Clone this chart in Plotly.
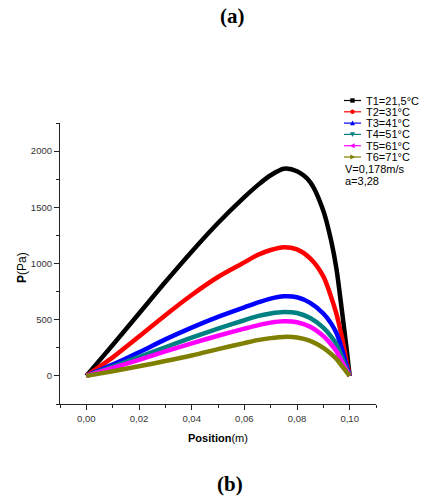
import plotly.graph_objects as go

position = [0, 0.01, 0.02, 0.03, 0.04, 0.05, 0.06, 0.065, 0.07, 0.075, 0.08,
            0.085, 0.09, 0.093, 0.095, 0.097, 0.099, 0.1]
p_t1 = [0, 275, 555, 835, 1105, 1360, 1590, 1695, 1785, 1843, 1820, 1725, 1470, 1200, 950, 590, 210, 0]
p_t2 = [0, 165, 350, 540, 720, 880, 1010, 1075, 1120, 1145, 1125, 1045, 885, 700, 550, 350, 110, 0]
p_t3 = [0, 100, 210, 325, 430, 525, 610, 652, 688, 708, 700, 650, 555, 465, 380, 245, 80, 0]
p_t4 = [0, 82, 168, 255, 340, 420, 495, 532, 556, 569, 560, 515, 430, 350, 280, 170, 55, 0]
p_t5 = [0, 70, 143, 218, 290, 357, 420, 450, 474, 486, 478, 438, 355, 280, 220, 130, 42, 0]
p_t6 = [0, 42, 86, 132, 182, 238, 292, 318, 336, 347, 342, 312, 250, 195, 150, 90, 30, 0]

labels = ["T1=21,5°C", "T2=31°C", "T3=41°C", "T4=51°C", "T5=61°C", "T6=71°C"]
series = [p_t1, p_t2, p_t3, p_t4, p_t5, p_t6]
colors = ["#000000", "#ff0000", "#0000ff", "#008080", "#ff00ff", "#808000"]
symbols = ["square", "circle", "up", "down", "left", "right"]
extra_text = ["V=0,178m/s", "a=3,28"]

x_ticks = [0.0, 0.02, 0.04, 0.06, 0.08, 0.10]
x_ticktext = ["0,00", "0,02", "0,04", "0,06", "0,08", "0,10"]
y_ticks = [0, 500, 1000, 1500, 2000]

W, H = 427, 500
L, R, T, B = 60, 376, 123, 404


def px(xp):
    return (xp - L) / (R - L)


def py(yp):
    return (B - yp) / (B - T)


fig = go.Figure()
for lab, ys, c in zip(labels, series, colors):
    fig.add_trace(go.Scatter(x=position, y=ys, mode="lines", name=lab,
                             line=dict(color=c, width=4.5, shape="spline", smoothing=0.8),
                             showlegend=False))

SANS = "Liberation Sans, Arial"
leg_x0, leg_x1 = 344, 361
leg_y0, dy = 100.5, 11.3
for i, (lab, c, s) in enumerate(zip(labels, colors, symbols)):
    yy = leg_y0 + i * dy
    fig.add_shape(type="line", xref="paper", yref="paper",
                  x0=px(leg_x0), x1=px(leg_x1), y0=py(yy), y1=py(yy),
                  line=dict(color=c, width=1.2))
    cx, r = (leg_x0 + leg_x1) / 2, 2.2
    if s == "square":
        pts = [(cx - r, yy - r), (cx + r, yy - r), (cx + r, yy + r), (cx - r, yy + r)]
    elif s == "circle":
        pts = None
    elif s == "up":
        pts = [(cx, yy - r - 0.5), (cx + r + 0.3, yy + r), (cx - r - 0.3, yy + r)]
    elif s == "down":
        pts = [(cx, yy + r + 0.5), (cx + r + 0.3, yy - r), (cx - r - 0.3, yy - r)]
    elif s == "left":
        pts = [(cx - r - 0.5, yy), (cx + r, yy - r - 0.3), (cx + r, yy + r + 0.3)]
    else:
        pts = [(cx + r + 0.5, yy), (cx - r, yy - r - 0.3), (cx - r, yy + r + 0.3)]
    if pts is None:
        fig.add_shape(type="circle", xref="paper", yref="paper",
                      x0=px(cx - r), x1=px(cx + r), y0=py(yy + r), y1=py(yy - r),
                      fillcolor=c, line=dict(color=c, width=0))
    else:
        path = "M " + " L ".join(f"{px(a):.5f},{py(b):.5f}" for a, b in pts) + " Z"
        fig.add_shape(type="path", xref="paper", yref="paper", path=path,
                      fillcolor=c, line=dict(color=c, width=0))
    fig.add_annotation(x=px(364), y=py(yy), xref="paper", yref="paper", text=lab,
                       showarrow=False, xanchor="left", yanchor="middle",
                       font=dict(family=SANS, size=11, color="#000"))
for j, t in enumerate(extra_text):
    fig.add_annotation(x=px(343), y=py(leg_y0 + 6 * dy + 0.6 + j * 12.4),
                       xref="paper", yref="paper", text=t,
                       showarrow=False, xanchor="left", yanchor="middle",
                       font=dict(family=SANS, size=11, color="#000"))

fig.add_annotation(x=px(232), y=py(16), xref="paper", yref="paper", text="<b>(a)</b>",
                   showarrow=False, xanchor="center", yanchor="middle",
                   font=dict(family="Liberation Serif, Times New Roman", size=21, color="#000"))
fig.add_annotation(x=px(230), y=py(484), xref="paper", yref="paper", text="<b>(b)</b>",
                   showarrow=False, xanchor="center", yanchor="middle",
                   font=dict(family="Liberation Serif, Times New Roman", size=21, color="#000"))
fig.add_annotation(x=px(218), y=py(438), xref="paper", yref="paper",
                   text="<b>Position</b>(m)", showarrow=False, xanchor="center", yanchor="middle",
                   font=dict(family=SANS, size=11, color="#000"))
fig.add_annotation(x=px(22), y=py(268), xref="paper", yref="paper", text="<b>P</b>(Pa)",
                   showarrow=False, textangle=-90, xanchor="center", yanchor="middle",
                   font=dict(family=SANS, size=12, color="#000"))

fig.update_layout(
    width=W, height=H,
    margin=dict(l=L, r=W - R, t=T, b=H - B, pad=0),
    paper_bgcolor="white", plot_bgcolor="white",
    xaxis=dict(range=[-0.01, 0.11], tickvals=x_ticks, ticktext=x_ticktext,
               showgrid=False, zeroline=False, showline=True, linecolor="#222", linewidth=1.2,
               ticks="outside", ticklen=5, tickcolor="#222", automargin=False,
               minor=dict(dtick=0.01, ticks="outside", ticklen=3, tickcolor="#222"),
               tickfont=dict(family=SANS, size=9.5, color="#333")),
    yaxis=dict(range=[-250, 2250], tickvals=y_ticks,
               showgrid=False, zeroline=False, showline=True, linecolor="#222", linewidth=1.2,
               ticks="outside", ticklen=5, tickcolor="#222", automargin=False,
               minor=dict(dtick=250, ticks="outside", ticklen=3, tickcolor="#222"),
               tickfont=dict(family=SANS, size=9.5, color="#333")),
    showlegend=False,
)
fig.write_html("out.html", config={"displayModeBar": False},
               post_script="document.body.style.margin='0px';")
